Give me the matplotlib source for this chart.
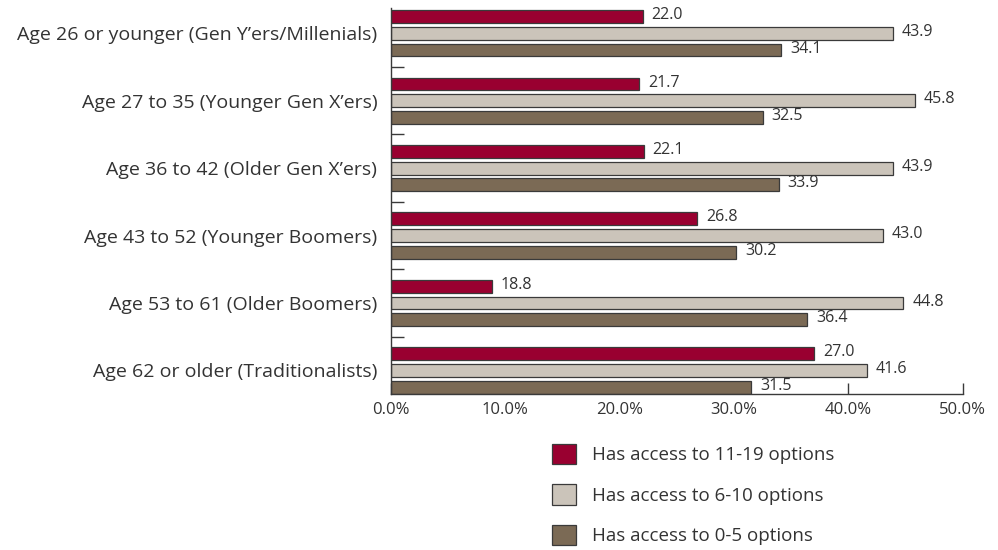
import numpy as np
import matplotlib
matplotlib.use("Agg")
from matplotlib import pyplot as plt
from matplotlib.patches import Patch

plt.rcParams['font.family'] = ['Open Sans', 'DejaVu Sans']

# datos
categorias = ["Age 26 or younger (Gen Y\u2019ers/Millenials)",
              "Age 27 to 35 (Younger Gen X\u2019ers)",
              "Age 36 to 42 (Older Gen X\u2019ers)",
              "Age 43 to 52 (Younger Boomers)",
              "Age 53 to 61 (Older Boomers)",
              "Age 62 or older (Traditionalists)"]
# longitudes de barra tal como se dibujan en el original
rojo = [22.0, 21.7, 22.1, 26.8, 8.8, 37.0]
gris = [43.9, 45.8, 43.9, 43.0, 44.8, 41.6]
marron = [34.1, 32.5, 33.9, 30.2, 36.4, 31.5]
# etiquetas impresas (en el original dos barras rojas no coinciden con su etiqueta)
rojo_txt = ["22.0", "21.7", "22.1", "26.8", "18.8", "27.0"]
gris_txt = ["43.9", "45.8", "43.9", "43.0", "44.8", "41.6"]
marron_txt = ["34.1", "32.5", "33.9", "30.2", "36.4", "31.5"]
series = ["Has access to 11-19 options", "Has access to 6-10 options",
          "Has access to 0-5 options"]
ticks_x = [0, 10, 20, 30, 40, 50]

col_rojo = "#990030"
col_gris = "#CBC4BA"
col_marron = "#7B6A55"
col_borde = "#3a3a3a"


def main():
    fig = plt.figure(figsize=(9.98, 5.5), dpi=100)
    ax = fig.add_axes([0.3918, 0.2845, 0.9645 - 0.3918, 0.985 - 0.2845])

    y = np.arange(len(categorias))
    paso = 0.248
    alto = 0.189

    grupos = [(rojo, rojo_txt, col_rojo, -paso),
              (gris, gris_txt, col_gris, 0.0),
              (marron, marron_txt, col_marron, paso)]
    for vals, txts, col, off in grupos:
        bars = ax.barh(y + off, vals, height=alto, color=col,
                       edgecolor=col_borde, linewidth=0.9, zorder=2)
        for b, t in zip(bars, txts):
            ax.annotate(t, (b.get_width(), b.get_y() + b.get_height() / 2),
                        xytext=(6.5, 1), textcoords="offset points",
                        ha="left", va="center", fontsize=11.5, color="#333333")

    ax.set_xlim(0, 50)
    ax.set_ylim(len(categorias) - 1 + paso + alto / 2, -0.371)

    ax.set_xticks(ticks_x)
    ax.set_xticklabels(["%.1f%%" % t for t in ticks_x], fontsize=12, color="#333333")
    ax.tick_params(axis="x", direction="in", length=8, width=1, color=col_borde, pad=6)

    ax.set_yticks(y)
    ax.set_yticklabels(categorias, fontsize=14, color="#333333")
    ax.tick_params(axis="y", which="major", length=0, pad=10)
    ax.set_yticks(y[:-1] + 0.5, minor=True)
    ax.tick_params(axis="y", which="minor", direction="in", length=9.5,
                   width=1, color=col_borde)

    for s in ["top", "right"]:
        ax.spines[s].set_visible(False)
    for s in ["left", "bottom"]:
        ax.spines[s].set_color(col_borde)
        ax.spines[s].set_linewidth(1)

    handles = [Patch(facecolor=c, edgecolor=col_borde, linewidth=0.9)
               for c in [col_rojo, col_gris, col_marron]]
    fig.legend(handles, series, loc="upper left",
               bbox_to_anchor=(551.7 / 998, 1 - 444 / 550),
               frameon=False, fontsize=13.5, handlelength=1.28, handleheight=1.28,
               handletextpad=0.85, labelspacing=1.07, borderpad=0, borderaxespad=0,
               labelcolor="#333333")

    plt.savefig("out.png", dpi=100)


if __name__ == "__main__":
    main()
